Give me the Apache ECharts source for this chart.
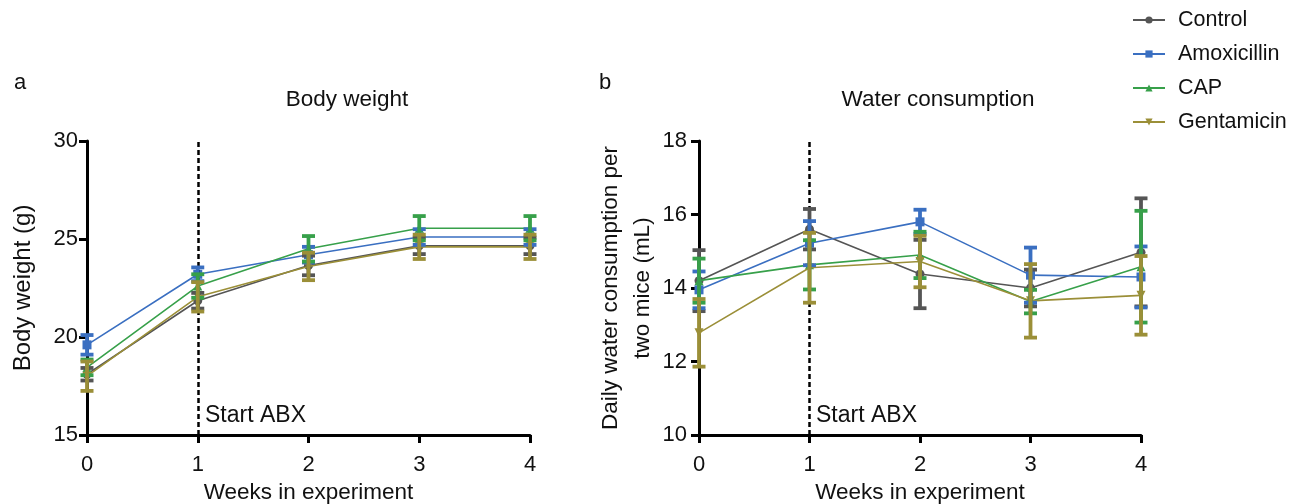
<!DOCTYPE html>
<html>
<head>
<meta charset="utf-8">
<script src="https://cdn.jsdelivr.net/npm/echarts@6/dist/echarts.min.js"></script>
<style>
  html, body { margin: 0; padding: 0; background: #fff; }
  #chart { width: 1301px; height: 504px; }
</style>
</head>
<body>
<div id="chart"></div>
<script>
// data
var weeks = [0, 1, 2, 3, 4];
var groups = ['Control', 'Amoxicillin', 'CAP', 'Gentamicin'];

// body weight (g), mean and error
var bwControl = [18.1, 21.85, 23.65, 24.65, 24.65];
var bwAmox    = [19.6, 23.2, 24.2, 25.1, 25.1];
var bwCap     = [18.45, 22.6, 24.5, 25.55, 25.55];
var bwGenta   = [18.0, 22.05, 23.6, 24.6, 24.6];
var bwControlErr = [0.32, 0.4, 0.5, 0.42, 0.42];
var bwAmoxErr    = [0.5, 0.35, 0.4, 0.4, 0.4];
var bwCapErr     = [0.4, 0.6, 0.65, 0.62, 0.62];
var bwGentaErr   = [0.75, 0.75, 0.7, 0.62, 0.62];

// water consumption (mL), mean and error
var wcControl = [14.2, 15.6, 14.38, 14.0, 14.97];
var wcAmox    = [13.95, 15.22, 15.8, 14.35, 14.3];
var wcCap     = [14.2, 14.63, 14.9, 13.63, 14.58];
var wcGenta   = [12.78, 14.55, 14.72, 13.65, 13.8];
var wcControlErr = [0.83, 0.55, 0.93, 0.5, 1.47];
var wcAmoxErr    = [0.5, 0.6, 0.33, 0.75, 0.83];
var wcCapErr     = [0.6, 0.67, 0.63, 0.32, 1.52];
var wcGentaErr   = [0.92, 0.95, 0.7, 1.0, 1.07];

var bwTicks = [15, 20, 25, 30];
var wcTicks = [10, 12, 14, 16, 18];

var colors = ['#555555', '#3a6fc1', '#37a04a', '#9b8f38'];
var symbols = ['circle', 'rect', 'triangle', 'triangle'];
var rotations = [0, 0, 0, 180];
var FONT = '"Liberation Sans", Arial, sans-serif';

var bwMeans = [bwControl, bwAmox, bwCap, bwGenta];
var bwErrs = [bwControlErr, bwAmoxErr, bwCapErr, bwGentaErr];
var wcMeans = [wcControl, wcAmox, wcCap, wcGenta];
var wcErrs = [wcControlErr, wcAmoxErr, wcCapErr, wcGentaErr];

function errRender(params, api) {
  var x = api.value(0);
  var lo = api.coord([x, api.value(1)]);
  var hi = api.coord([x, api.value(2)]);
  var half = 6.5;
  var style = { stroke: api.visual('color'), lineWidth: 3.8 };
  return {
    type: 'group',
    children: [
      { type: 'line', shape: { x1: lo[0], y1: lo[1], x2: hi[0], y2: hi[1] }, style: style },
      { type: 'line', shape: { x1: lo[0] - half, y1: lo[1], x2: lo[0] + half, y2: lo[1] }, style: style },
      { type: 'line', shape: { x1: hi[0] - half, y1: hi[1], x2: hi[0] + half, y2: hi[1] }, style: style }
    ]
  };
}

function axisX(idx) {
  return {
    type: 'value', gridIndex: idx, min: 0, max: 4, interval: 1,
    name: 'Weeks in experiment', nameLocation: 'middle', nameGap: 46,
    nameTextStyle: { fontSize: 22.5, color: '#111', fontFamily: FONT },
    axisLine: { lineStyle: { color: '#000', width: 3 } },
    axisTick: { length: 8, lineStyle: { color: '#000', width: 3 } },
    axisLabel: { fontSize: 22, color: '#111', fontFamily: FONT, margin: 19 },
    splitLine: { show: false }
  };
}

function axisY(idx, ticks, name, gap) {
  return {
    type: 'value', gridIndex: idx,
    min: ticks[0], max: ticks[ticks.length - 1], interval: ticks[1] - ticks[0],
    name: name, nameLocation: 'middle', nameGap: gap, nameRotate: 90,
    nameTextStyle: { fontSize: idx === 0 ? 24 : 22.5, color: '#111', fontFamily: FONT, lineHeight: 32 },
    axisLine: { show: true, lineStyle: { color: '#000', width: 3 } },
    axisTick: { show: true, length: 8, lineStyle: { color: '#000', width: 3 } },
    axisLabel: { fontSize: 22, color: '#111', fontFamily: FONT, margin: idx === 0 ? 9 : 12 },
    splitLine: { show: false }
  };
}

var series = [];
function addPanel(idx, means, errs) {
  groups.forEach(function (g, i) {
    var s = {
      name: g, type: 'line', xAxisIndex: idx, yAxisIndex: idx,
      data: weeks.map(function (w, k) { return [w, means[i][k]]; }),
      color: colors[i],
      lineStyle: { width: 1.6 },
      symbol: symbols[i], symbolSize: 9, symbolRotate: rotations[i],
      showSymbol: true, z: 3 + i, silent: true
    };
    if (i === 0) {
      s.markLine = {
        silent: true, symbol: 'none', label: { show: false },
        lineStyle: { color: '#000', width: 2.5, type: [5, 3] },
        data: [{ xAxis: 1 }]
      };
    }
    series.push(s);
  });
  groups.forEach(function (g, i) {
    series.push({
      name: g, type: 'custom', xAxisIndex: idx, yAxisIndex: idx,
      renderItem: errRender, color: colors[i], z: 8 + i, silent: true,
      data: weeks.map(function (w, k) {
        return [w, means[i][k] - errs[i][k], means[i][k] + errs[i][k]];
      })
    });
  });
}
addPanel(0, bwMeans, bwErrs);
addPanel(1, wcMeans, wcErrs);

var chart = echarts.init(document.getElementById('chart'));
chart.setOption({
  animation: false,
  textStyle: { fontFamily: FONT },
  grid: [
    { left: 87, right: 771, top: 141, bottom: 69, outerBoundsMode: 'none', containLabel: false },
    { left: 699, right: 160, top: 141, bottom: 69, outerBoundsMode: 'none', containLabel: false }
  ],
  xAxis: [axisX(0), axisX(1)],
  yAxis: [
    axisY(0, bwTicks, 'Body weight (g)', 48),
    axisY(1, wcTicks, 'Daily water consumption per\ntwo mice (mL)', 37)
  ],
  legend: {
    orient: 'vertical', left: 1127, top: 4,
    itemWidth: 32, itemHeight: 9, itemGap: 12,
    data: groups,
    textStyle: { fontSize: 21.5, lineHeight: 22, color: '#111', fontFamily: FONT, padding: [0, 0, 0, 8] }
  },
  graphic: [
    { type: 'text', x: 20, y: 83, style: { text: 'a', font: '22px ' + FONT, fill: '#111', align: 'center', verticalAlign: 'middle' } },
    { type: 'text', x: 605, y: 83, style: { text: 'b', font: '22px ' + FONT, fill: '#111', align: 'center', verticalAlign: 'middle' } },
    { type: 'text', x: 347, y: 100, style: { text: 'Body weight', font: '22.5px ' + FONT, fill: '#111', align: 'center', verticalAlign: 'middle' } },
    { type: 'text', x: 938, y: 100, style: { text: 'Water consumption', font: '22.5px ' + FONT, fill: '#111', align: 'center', verticalAlign: 'middle' } },
    { type: 'text', x: 205, y: 416, style: { text: 'Start ABX', font: '23px ' + FONT, fill: '#111', align: 'left', verticalAlign: 'middle' } },
    { type: 'text', x: 816, y: 416, style: { text: 'Start ABX', font: '23px ' + FONT, fill: '#111', align: 'left', verticalAlign: 'middle' } }
  ],
  series: series
});
</script>
</body>
</html>
